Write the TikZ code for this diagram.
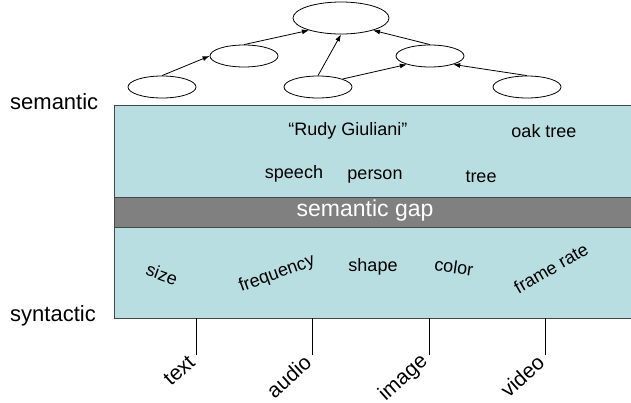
\documentclass[tikz,border=0pt]{standalone}
\usepackage{fontspec}
\setmainfont{Liberation Sans}
\usetikzlibrary{shapes.geometric,arrows.meta}
\definecolor{boxfill}{RGB}{185,222,226}
\definecolor{gapfill}{RGB}{128,128,128}
\definecolor{edgecol}{RGB}{70,70,70}
\begin{document}
\begin{tikzpicture}[x=1pt,y=-1pt,
 ell/.style={draw,ellipse,inner sep=0pt,line width=0.8pt,fill=white},
 bigell/.style={ell,minimum width=96pt,minimum height=32pt},
 smell/.style={ell,minimum width=68pt,minimum height=22pt},
 arr/.style={line width=0.8pt,-{Latex[length=7pt,width=5pt]}},
 inner/.style={font=\fontsize{18}{20}\selectfont,inner sep=0pt},
 side/.style={font=\fontsize{22}{24}\selectfont,inner sep=0pt,anchor=base west},
 media/.style={font=\fontsize{21}{23}\selectfont,inner sep=0pt,rotate=42,anchor=east},
 tickline/.style={line width=0.8pt}]
\useasboundingbox (0,0) rectangle (631,402);
% layers
\filldraw[fill=boxfill,draw=edgecol,line width=1pt] (114,105) rectangle (640,318);
\filldraw[fill=gapfill,draw=edgecol,line width=1pt] (114,197) rectangle (640,227);
\node[font=\fontsize{23}{25}\selectfont,text=white,inner sep=0pt] (gap) at (365,211) {semantic gap};
% side labels
\node[side] (sem) at (10,109) {semantic};
\node[side] (syn) at (10,321) {syntactic};
% ellipses
\node[bigell] (top) at (341,18) {};
\node[smell] (ml) at (244,56) {};
\node[smell] (mr) at (430,56) {};
\node[smell] (bl) at (162,87) {};
\node[smell] (bm) at (318,87) {};
\node[smell] (br) at (527,87) {};
\draw[arr] (bl.north) -- (ml.west);
\draw[arr] (ml.north) -- (top.201);
\draw[arr] (bm.north) -- (top.south);
\draw[arr] (bm.18) -- (mr.200);
\draw[arr] (mr.north) -- (top.-21);
\draw[arr] (br.north) -- (mr.-20);
% semantic texts
\node[inner] (rudy) at (348,131) {“Rudy Giuliani”};
\node[inner] (oak) at (544,131) {oak tree};
\node[inner] (speech) at (294,174) {speech};
\node[inner] (person) at (375,177) {person};
\node[inner] (tree) at (481,177) {tree};
% syntactic texts
\node[inner,rotate=-20] (size) at (162,274) {size};
\node[inner,rotate=20] (freq) at (277,274) {frequency};
\node[inner] (shape) at (373,267) {shape};
\node[inner,rotate=-8] (color) at (454,267) {color};
\node[inner,rotate=30] (frame) at (551,268) {frame rate};
% media ticks
\coordinate (t1) at (196,318); \coordinate (b1) at (196,355);
\coordinate (t2) at (312,318); \coordinate (b2) at (312,355);
\coordinate (t3) at (429,318); \coordinate (b3) at (429,355);
\coordinate (t4) at (545,318); \coordinate (b4) at (545,355);
\draw[tickline] (t1) -- (b1);
\draw[tickline] (t2) -- (b2);
\draw[tickline] (t3) -- (b3);
\draw[tickline] (t4) -- (b4);
\node[media] (text) at ([shift={(-4,4)}]b1) {text};
\node[media] (audio) at ([shift={(-4,4)}]b2) {audio};
\node[media] (image) at ([shift={(-4,4)}]b3) {image};
\node[media] (video) at ([shift={(-4,4)}]b4) {video};
\end{tikzpicture}
\end{document}
